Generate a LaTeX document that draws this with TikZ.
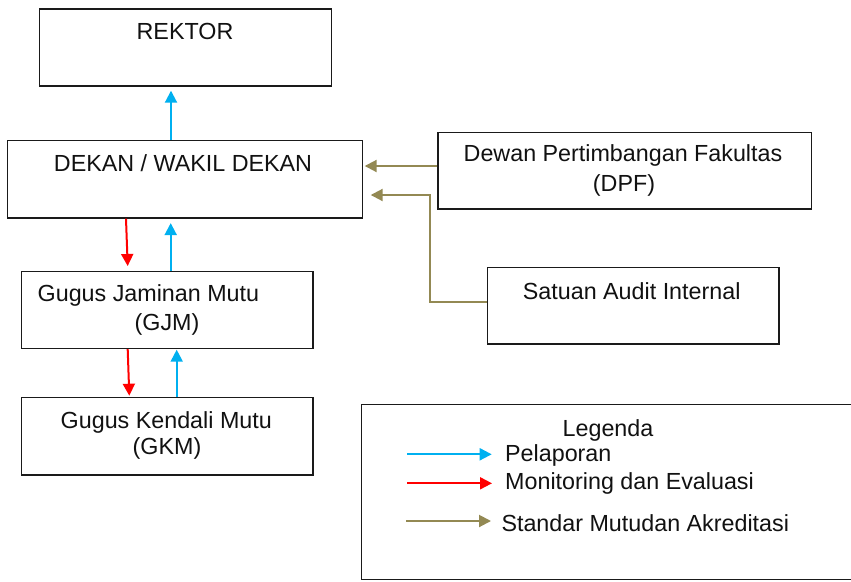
\documentclass[tikz,border=0pt]{standalone}
\usepackage{fontspec}
\setmainfont{Liberation Sans}
\usetikzlibrary{arrows.meta,calc}
\definecolor{pelblue}{HTML}{00B0F0}
\definecolor{monred}{HTML}{FF0000}
\definecolor{stdolive}{HTML}{938953}
\definecolor{boxline}{HTML}{1A1A1A}
\definecolor{ink}{HTML}{111111}

\begin{document}
\begin{tikzpicture}[x=1pt,y=-1pt,
  box/.style={draw=boxline, line width=1.4pt, fill=white, inner sep=0pt, anchor=north west},
  txt/.style={anchor=base, inner sep=0pt, text=ink, font=\fontsize{23.3}{28}\selectfont},
  txtl/.style={txt, anchor=base west},
  flow/.style={line width=2pt, -{Triangle[length=12pt,width=12pt]}},
  pel/.style={flow, draw=pelblue},
  mon/.style={flow, draw=monred},
  std/.style={flow, draw=stdolive}]

\useasboundingbox[fill=white] (0,0) rectangle (851,581);

% organisation boxes
\node[box, minimum width=291.7pt, minimum height=77pt]   (rektor) at (39,8.3) {};
\node[box, minimum width=355pt,   minimum height=77.3pt] (dekan)  at (6.7,140) {};
\node[box, minimum width=373.7pt, minimum height=76.6pt] (dpf)    at (437.3,131.7) {};
\node[box, minimum width=291.6pt, minimum height=76.6pt] (sai)    at (486.7,266.7) {};
\node[box, minimum width=291.6pt, minimum height=76.7pt] (gjm)    at (20.7,271) {};
\node[box, minimum width=291.6pt, minimum height=77.6pt] (gkm)    at (20.7,396.7) {};
\node[box, minimum width=600pt,   minimum height=175pt]  (legend) at (361,404) {};

% box texts
\node[txt]  (rektorT) at (185,39.3) {REKTOR};
\node[txt]  (dekanT)  at (183,171) {DEKAN / WAKIL DEKAN};
\node[txt]  (dpfT1)   at (623,161.7) {Dewan Pertimbangan Fakultas};
\node[txt]  (dpfT2)   at (624,191.7) {(DPF)};
\node[txt]  (saiT)    at (631.7,299.3) {Satuan Audit Internal};
\node[txtl] (gjmT1)   at (37.5,301.7) {Gugus Jaminan Mutu};
\node[txt]  (gjmT2)   at (167,330) {(GJM)};
\node[txt]  (gkmT1)   at (166.3,428.3) {Gugus Kendali Mutu};
\node[txt]  (gkmT2)   at (167,454) {(GKM)};

% reporting, monitoring and standard flows
\draw[pel] ($(dekan.north west)+(164.3,0)$) -- ($(rektor.south west)+(132,4)$);
\draw[mon] ($(dekan.south west)+(119.3,0)$) -- ($(gjm.north west)+(107,-5)$);
\draw[pel] ($(gjm.north west)+(150,0)$) -- ($(dekan.south west)+(164,4.4)$);
\draw[mon] ($(gjm.south west)+(107,0)$) -- ($(gkm.north west)+(108.6,-1)$);
\draw[pel] ($(gkm.north west)+(156,0)$) -- ($(gjm.south west)+(156,0.6)$);
\draw[std] ($(dpf.north west)+(0,34.3)$) -- ($(dekan.north east)+(1.6,26)$);
\draw[std] ($(sai.north west)+(0,35)$) -| ($(dekan.north east)+(66.6,55)$)
           -- ($(dekan.north east)+(7.6,55)$);

% legend
\node[txt] (legT) at (608,436) {Legenda};
\coordinate (lp1) at ($(legend.north west)+(46,50.3)$);
\coordinate (lp2) at ($(legend.north west)+(130.7,50.3)$);
\coordinate (lm1) at ($(legend.north west)+(46,79.3)$);
\coordinate (lm2) at ($(legend.north west)+(131,79.3)$);
\coordinate (ls1) at ($(legend.north west)+(45,117)$);
\coordinate (ls2) at ($(legend.north west)+(130,117)$);
\draw[pel] (lp1) -- (lp2);
\draw[mon] (lm1) -- (lm2);
\draw[std] (ls1) -- (ls2);
\node[txtl] (legP) at (505,461) {Pelaporan};
\node[txtl] (legM) at (505,489.3) {Monitoring dan Evaluasi};
\node[txtl] (legS) at (501.3,531) {Standar Mutudan Akreditasi};
\end{tikzpicture}
\end{document}
